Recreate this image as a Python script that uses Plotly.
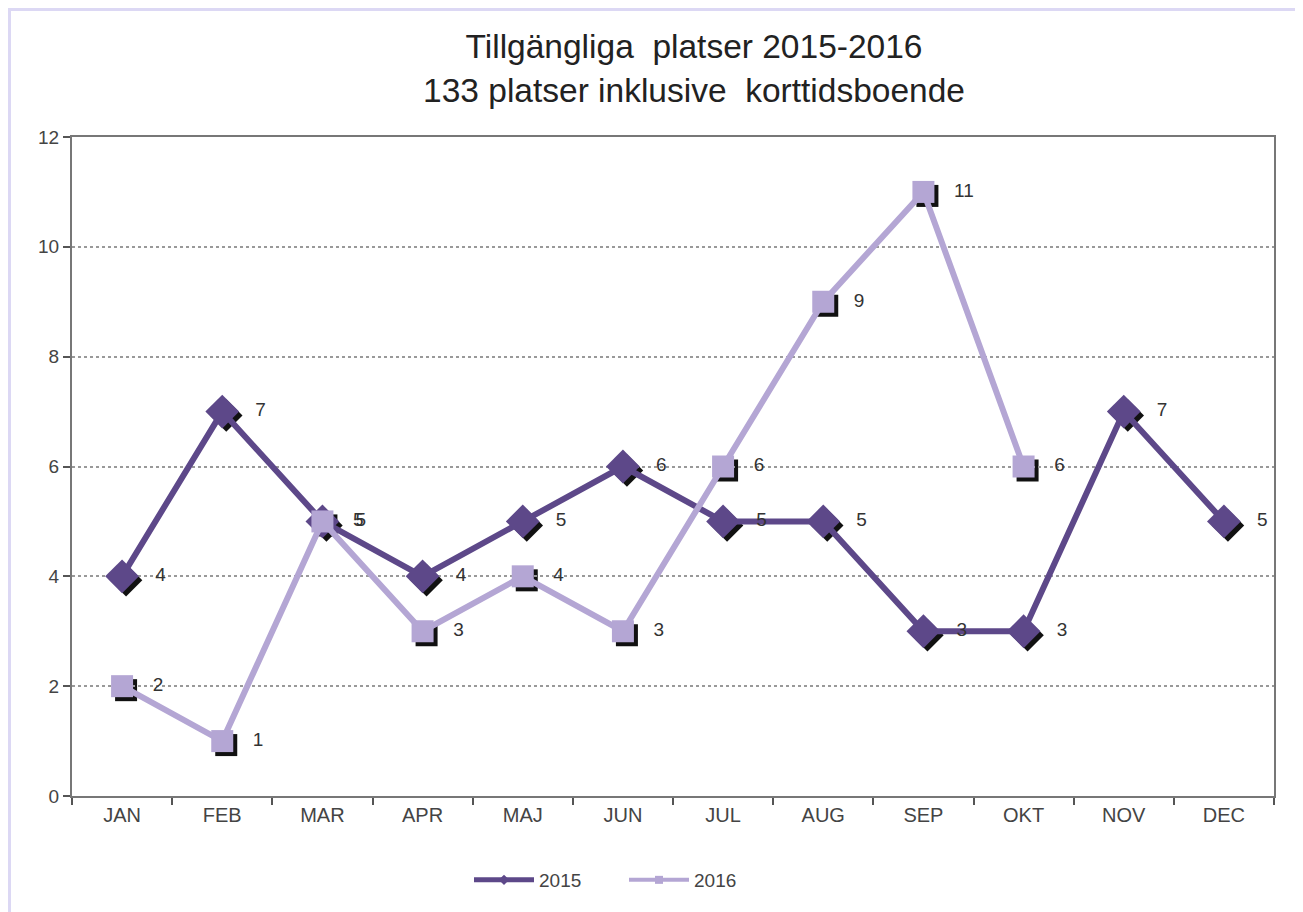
import plotly.graph_objects as go

months = ["JAN", "FEB", "MAR", "APR", "MAJ", "JUN", "JUL", "AUG", "SEP", "OKT", "NOV", "DEC"]
vals_2015 = [4, 7, 5, 4, 5, 6, 5, 5, 3, 3, 7, 5]
vals_2016 = [2, 1, 5, 3, 4, 3, 6, 9, 11, 6, None, None]

W, H = 1303, 912
OFF = 8  # browser body margin
L, R, T, B = 72 - OFF, 29 + OFF - 4, 137 - OFF, 116 + OFF - 4
SH = 4  # shadow offset px
pw = W - L - R
ph = H - T - B
dx = SH / pw
dy = SH / ph

c15 = "#5d4889"
c16 = "#b4a6d4"
font = "Liberation Sans, Arial, sans-serif"

def lbl(v):
    return ["   " + str(x) if x is not None else "" for x in v]

fig = go.Figure()
# shadows (on offset axes)
for vals, sym, sz in [(vals_2015, "diamond", 25), (vals_2016, "square", 22)]:
    fig.add_trace(go.Scatter(x=months, y=vals, mode="markers", xaxis="x", yaxis="y",
                             marker=dict(symbol=sym, size=sz, color="#111111"),
                             showlegend=False, hoverinfo="skip"))

fig.add_trace(go.Scatter(x=months, y=vals_2015, name="2015", mode="lines+markers+text",
                         xaxis="x2", yaxis="y2", showlegend=False,
                         line=dict(color=c15, width=6),
                         marker=dict(symbol="diamond", size=26, color=c15),
                         text=lbl(vals_2015), textposition="middle right",
                         textfont=dict(family=font, size=19, color="#333333")))
fig.add_trace(go.Scatter(x=months, y=vals_2016, name="2016", mode="lines+markers+text",
                         xaxis="x2", yaxis="y2", showlegend=False,
                         line=dict(color=c16, width=6),
                         marker=dict(symbol="square", size=22, color=c16),
                         text=lbl(vals_2016), textposition="middle right",
                         textfont=dict(family=font, size=19, color="#333333")))
# legend proxies
fig.add_trace(go.Scatter(x=[None], y=[None], name="2015", mode="lines+markers", xaxis="x2", yaxis="y2",
                         line=dict(color=c15, width=5), marker=dict(symbol="diamond", size=8, color=c15)))
fig.add_trace(go.Scatter(x=[None], y=[None], name="2016", mode="lines+markers", xaxis="x2", yaxis="y2",
                         line=dict(color=c16, width=4), marker=dict(symbol="square", size=8, color=c16)))

hidden = dict(visible=False, fixedrange=True)
fig.update_layout(
    width=W, height=H,
    margin=dict(l=L, r=R, t=T, b=B),
    paper_bgcolor="white", plot_bgcolor="rgba(0,0,0,0)",
    font=dict(family=font, color="#444444"),
    title=dict(text="Tillgängliga  platser 2015-2016<br>133 platser inklusive  korttidsboende",
               x=686 / W, xanchor="center", y=1 - 50 / H, yanchor="top",
               font=dict(family=font, size=33.5, color="#222222")),
    xaxis=dict(type="category", categoryorder="array", categoryarray=months,
               range=[-0.5, 11.5], domain=[dx, 1], anchor="y", **hidden),
    yaxis=dict(range=[0, 12], domain=[0, 1 - dy], anchor="x", **hidden),
    xaxis2=dict(type="category", categoryorder="array", categoryarray=months,
                range=[-0.5, 11.5], domain=[0, 1 - dx], anchor="y2",
                tickson="boundaries", ticks="outside", ticklen=7, tickwidth=2, tickcolor="#555555",
                showline=True, linecolor="#777777", linewidth=2, mirror=True,
                showgrid=False, tickfont=dict(size=20, color="#444444")),
    yaxis2=dict(range=[0, 12], dtick=2, domain=[dy, 1], anchor="x2",
                ticks="outside", ticklen=7, tickwidth=2, tickcolor="#555555",
                showline=True, linecolor="#777777", linewidth=2, mirror=True,
                showgrid=True, gridcolor="#999999", griddash="dot", gridwidth=2,
                zeroline=False, tickfont=dict(size=19, color="#444444")),
    legend=dict(orientation="h", x=(624 - OFF) / W, xanchor="center", xref="container",
                yref="container", y=1 - (880 - OFF) / H, yanchor="middle",
                font=dict(size=19, color="#444444"), itemwidth=60,
                entrywidth=80, entrywidthmode="pixels"),
    showlegend=True,
)

# light lavender page frame (top and left edges)
fig.add_shape(type="line", xref="paper", yref="paper",
              x0=(0 - L) / pw, x1=(W - L) / pw, y0=1 + (T - 1) / ph, y1=1 + (T - 1) / ph,
              line=dict(color="#dcd8f4", width=4))
fig.add_shape(type="line", xref="paper", yref="paper",
              x0=(0 - L + 1) / pw, x1=(0 - L + 1) / pw, y0=1 + T / ph, y1=-(B) / ph,
              line=dict(color="#dcd8f4", width=4))

fig.write_html("out.html")
